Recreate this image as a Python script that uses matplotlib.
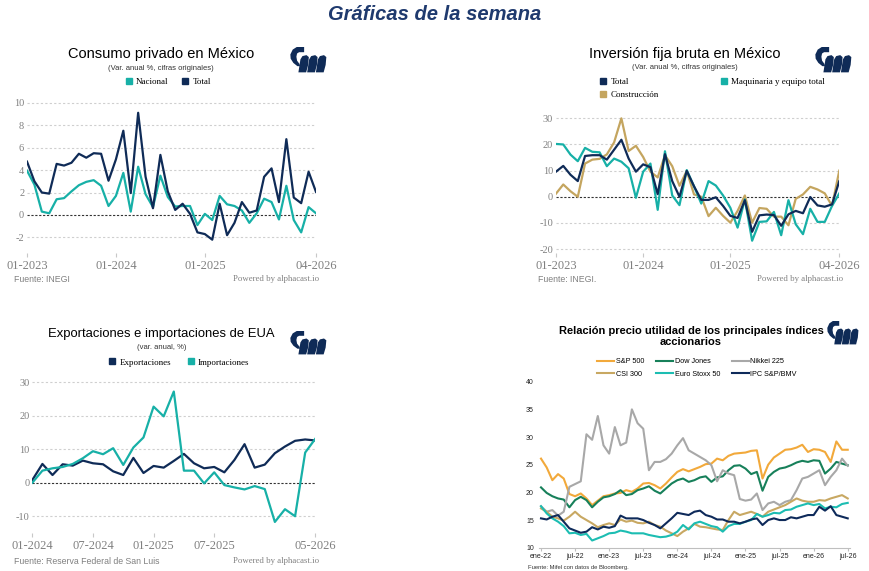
import matplotlib.pyplot as plt
from matplotlib.lines import Line2D
from matplotlib.patches import Polygon

W, H = 870, 571
NAVY = '#0f2b57'
TEAL = '#17b0a7'
GOLD = '#c4a55f'
GRID = '#cfcfcf'
TICK = '#808080'

plt.rcParams['font.family'] = ['Liberation Sans', 'DejaVu Sans']
plt.rcParams['axes.unicode_minus'] = False

# Consumo privado (monthly, 01-2023 .. 04-2026)
consumo_ticks = [0, 12, 24, 39]
consumo_labels = ['01-2023', '01-2024', '01-2025', '04-2026']
consumo_total = [4.75, 3.0, 2.0, 1.9, 4.55, 4.4, 4.65, 5.45, 5.1, 5.5,
                 5.45, 3.05, 4.95, 7.5, 1.95, 9.1, 3.4, 0.6, 5.35, 2.1,
                 0.45, 1.0, 0.1, -1.55, -1.7, -2.2, 1.0, -1.8, -0.7, 1.15,
                 0.2, 0.4, 3.4, 4.15, 1.15, 6.75, 1.55, 1.05, 3.85, 2.05]
consumo_nacional = [3.95, 2.7, 0.3, 0.15, 1.4, 1.5, 2.1, 2.65, 2.95, 3.1,
                    2.6, 0.8, 1.7, 3.75, 0.3, 4.3, 1.85, 0.7, 3.5, 1.6,
                    0.75, 0.8, 0.8, -0.9, 0.1, -0.45, 1.7, 0.95, 0.8, 0.4,
                    -0.7, 0.15, 1.45, 1.15, -0.4, 2.6, -0.45, -1.55, 0.7, 0.15]

# Inversion fija bruta (monthly, 01-2023 .. 04-2026)
inv_total = [9.6, 11.8, 8.4, 6.0, 15.6, 15.9, 15.9, 14.2, 18.0, 21.8,
             14.6, 9.6, 12.4, 11.3, 1.0, 16.3, 6.0, 0.0, 9.9, 4.0,
             -1.2, -1.2, -0.2, -3.5, -7.3, -8.1, -1.3, -13.4, -7.1, -6.8,
             -7.0, -11.1, -6.7, -5.4, -6.3, -0.1, -3.3, -3.8, -2.9, 6.0]
inv_maquinaria = [20.2, 20.0, 16.1, 13.6, 18.7, 17.2, 17.0, 11.7, 14.6, 13.4,
                  10.9, -0.4, 9.6, 12.7, -5.0, 17.4, 0.5, -3.2, 10.2, 4.0,
                  -2.6, 6.0, 4.3, 0.5, -4.2, -11.8, -1.0, -16.8, -9.6, -9.4,
                  -5.8, -14.7, -1.3, -10.5, -14.3, -4.6, -9.6, -9.6, -3.5, 1.3]
inv_construccion = [1.2, 4.7, 2.1, 0.0, 12.7, 14.2, 14.5, 16.2, 20.8, 30.0,
                    17.5, 19.5, 15.2, 9.6, 7.4, 15.9, 11.7, 4.2, 9.9, 0.9,
                    0.0, -7.4, -4.2, -7.3, -9.9, -5.4, 0.5, -9.9, -4.3, -4.6,
                    -7.6, -7.6, -10.9, -0.8, 0.9, 3.8, 2.8, 1.3, -3.5, 10.0]

# Exportaciones / importaciones EUA (monthly, 01-2024 .. 05-2026)
eua_ticks = [0, 6, 12, 18, 28]
eua_labels = ['01-2024', '07-2024', '01-2025', '07-2025', '05-2026']
exportaciones = [0.8, 5.6, 2.3, 5.5, 5.1, 6.6, 5.8, 5.5, 3.4, 2.3,
                 7.4, 2.9, 5.0, 4.5, 6.5, 8.6, 5.8, 4.3, 4.7, 3.1,
                 6.8, 11.5, 4.5, 5.4, 8.8, 10.8, 12.5, 12.9, 12.6]
importaciones = [0.0, 3.6, 4.3, 4.7, 5.6, 7.3, 9.4, 8.5, 10.3, 5.3,
                 10.5, 13.5, 22.7, 19.8, 27.2, 3.6, 3.6, -0.2, 3.1, -0.7,
                 -1.4, -2.0, -1.0, -1.9, -11.7, -7.9, -10.0, 9.0, 13.1]

# P/E indices (monthly, ene-22 .. jul-26)
pe_ticks = list(range(0, 55, 6))
pe_labels = ['ene-22', 'jul-22', 'ene-23', 'jul-23', 'ene-24', 'jul-24',
             'ene-25', 'jul-25', 'ene-26', 'jul-26']
sp500 = [26.1, 24.5, 22.2, 23.3, 22.5, 19.7, 19.3, 19.8, 18.9, 17.7,
         18.5, 19.3, 19.5, 19.8, 19.9, 20.4, 20.1, 20.7, 21.6, 21.7,
         21.3, 20.7, 21.6, 22.7, 23.7, 24.2, 23.8, 24.2, 24.6, 25.1,
         25.2, 26.1, 25.8, 26.6, 27.0, 27.1, 27.2, 27.5, 27.6, 22.5,
         25.0, 26.3, 27.0, 27.7, 27.8, 28.1, 28.6, 27.3, 27.8, 27.7,
         27.3, 25.5, 29.2, 27.7, 27.7]
dow_jones = [20.9, 19.9, 19.3, 18.9, 18.7, 17.3, 18.6, 19.2, 18.6, 17.3,
             18.3, 19.1, 19.3, 19.7, 20.4, 19.5, 19.7, 20.4, 20.7, 21.1,
             20.3, 19.8, 20.7, 21.6, 22.2, 22.5, 21.9, 22.2, 22.7, 22.9,
             21.9, 22.7, 22.9, 24.0, 24.8, 24.9, 24.3, 23.3, 23.7, 20.3,
             22.8, 23.7, 24.3, 24.5, 24.9, 25.4, 25.7, 25.5, 25.8, 25.7,
             23.4, 24.3, 25.5, 25.2, 24.9]
nikkei = [17.5, 16.5, 16.8, 15.8, 16.5, 21.0, 21.5, 22.0, 30.5, 29.5,
          33.8, 28.5, 27.0, 31.8, 28.5, 29.0, 35.0, 32.5, 31.5, 24.0,
          25.5, 25.5, 26.0, 27.0, 28.5, 29.8, 27.6, 27.0, 26.4, 25.8,
          24.9, 22.0, 24.0, 23.4, 23.1, 18.8, 18.5, 18.7, 19.8, 16.8,
          18.0, 18.3, 17.7, 18.3, 18.6, 20.4, 22.5, 22.8, 23.4, 24.0,
          21.3, 22.8, 24.0, 26.1, 24.8]
csi300 = [17.1, 16.5, 15.6, 15.3, 14.9, 15.6, 16.5, 15.6, 15.0, 14.4,
          13.7, 14.1, 14.4, 14.1, 15.1, 14.7, 14.9, 14.5, 14.4, 14.7,
          14.1, 13.8, 13.1, 12.6, 12.1, 12.9, 13.5, 14.3, 13.8, 13.7,
          13.5, 13.3, 13.2, 15.0, 16.5, 15.9, 16.2, 16.5, 16.1, 15.6,
          16.5, 16.9, 17.3, 17.7, 18.3, 18.9, 18.5, 18.3, 18.3, 18.6,
          18.5, 18.9, 19.2, 19.5, 18.9]
euro_stoxx = [17.5, 16.2, 15.3, 14.7, 13.9, 12.6, 12.7, 12.3, 12.5, 11.3,
              11.7, 12.1, 12.6, 12.7, 13.1, 12.9, 12.6, 12.6, 12.6, 12.3,
              12.1, 11.9, 12.0, 12.3, 12.9, 14.1, 13.3, 14.4, 14.7, 14.3,
              13.9, 13.7, 12.9, 13.9, 14.3, 14.3, 14.7, 15.0, 16.1, 15.6,
              15.9, 16.3, 16.2, 16.8, 16.9, 17.4, 17.7, 18.0, 17.7, 17.9,
              17.1, 17.4, 17.3, 17.9, 18.1]
ipc = [15.3, 15.1, 15.6, 15.9, 14.7, 13.5, 13.1, 12.7, 12.9, 13.7,
       13.3, 13.8, 13.6, 13.9, 15.8, 15.3, 15.3, 15.3, 15.0, 14.5,
       14.1, 13.5, 14.4, 15.3, 16.3, 16.1, 15.9, 16.5, 16.7, 15.9,
       15.6, 15.1, 15.1, 14.7, 14.7, 14.4, 14.7, 15.1, 15.3, 14.1,
       15.0, 15.3, 15.0, 15.0, 15.5, 15.3, 15.6, 15.9, 15.9, 17.4,
       16.7, 17.5, 15.9, 15.6, 15.3]


def box(left, top, right, bottom):
    return [left / W, 1 - bottom / H, (right - left) / W, (bottom - top) / H]


def fxy(x, y):
    return x / W, 1 - y / H


def draw_logo(fig, x0, y0, w, h):
    # Mifel-style mark: a "(" plus three slanted bars
    c_shape = [(72, 22), (50, 22), (38, 30), (31, 45), (32, 58), (40, 71), (52, 81),
               (60, 81), (58, 74), (51, 64), (49, 52), (51, 42), (57, 38), (72, 38)]
    bar = [(55, 100), (61, 60), (67, 50), (79, 47), (86, 53), (84, 77), (78, 100)]
    shapes = [c_shape] + [[(px + 26 * k, py) for px, py in bar] for k in range(3)]
    for pts in shapes:
        conv = [fxy(x0 + (px - 30) / 110 * w, y0 + (py - 22) / 80 * h) for px, py in pts]
        fig.patches.append(Polygon(conv, closed=True, color=NAVY, lw=0,
                                   transform=fig.transFigure, figure=fig))


def style_alpha(ax, xticks, xlabels, yticks):
    for s in ax.spines.values():
        s.set_visible(False)
    ax.set_xticks(xticks, xlabels)
    ax.set_yticks(yticks, [str(v) for v in yticks])
    ax.tick_params(axis='x', length=3, color='#c8c8c8', labelsize=9, labelcolor=TICK, pad=2)
    ax.tick_params(axis='y', length=0, labelsize=7.5, labelcolor=TICK, pad=2)
    for lab in ax.get_xticklabels() + ax.get_yticklabels():
        lab.set_fontfamily('Liberation Serif')
    for v in yticks:
        if v != 0:
            ax.axhline(v, color=GRID, lw=0.8, ls=(0, (2, 2)), zorder=0)
    ax.axhline(0, color='#333333', lw=0.8, ls=(0, (2, 1.5)), zorder=1)


def square_legend(ax, labels, colors, cx, cy, ncol, colspacing, labelspacing=0.5):
    handles = [Line2D([], [], ls='none', marker='s', markersize=4.5, color=c) for c in colors]
    ax.legend(handles, labels, loc='center', bbox_to_anchor=fxy(cx, cy),
              bbox_transform=ax.figure.transFigure, ncol=ncol, frameon=False,
              handlelength=0.8, handletextpad=0.4, columnspacing=colspacing,
              labelspacing=labelspacing, borderpad=0, borderaxespad=0,
              prop={'family': 'Liberation Serif', 'size': 6.5})


def footer(fig, left_text, lx, rx, y):
    fig.text(*fxy(lx, y), left_text, fontsize=6.3, color=TICK, va='center', ha='left')
    fig.text(*fxy(rx, y), 'Powered by alphacast.io', fontsize=6.3, color=TICK,
             va='center', ha='right', family='Liberation Serif')


fig = plt.figure(figsize=(8.7, 5.71), dpi=100)
fig.text(*fxy(435, 15), 'Gráficas de la semana', fontsize=14.5, fontweight='bold',
         fontstyle='italic', color='#1f3a6e', ha='center', va='center')

# Panel 1
ax1 = fig.add_axes(box(27, 99.3, 316, 252.6))
x1 = list(range(len(consumo_total)))
ax1.plot(x1, consumo_nacional, color=TEAL, lw=1.6, zorder=3)
ax1.plot(x1, consumo_total, color=NAVY, lw=1.6, zorder=4)
ax1.set_xlim(0, 39)
ax1.set_ylim(-3.35, 10.3)
style_alpha(ax1, consumo_ticks, consumo_labels, [-2, 0, 2, 4, 6, 8, 10])
fig.text(*fxy(161, 54), 'Consumo privado en México', fontsize=10.5, ha='center', va='center')
fig.text(*fxy(161, 68), '(Var. anual %, cifras originales)', fontsize=5.5, ha='center', va='center', color='#333333')
square_legend(ax1, ['Nacional', 'Total'], [TEAL, NAVY], 168, 81.5, 2, 1.5)
footer(fig, 'Fuente: INEGI', 14, 319, 279)
draw_logo(fig, 290, 47, 37, 26)

# Panel 2
ax2 = fig.add_axes(box(556, 115.7, 839.3, 253))
x2 = list(range(len(inv_total)))
ax2.plot(x2, inv_construccion, color=GOLD, lw=1.6, zorder=3)
ax2.plot(x2, inv_maquinaria, color=TEAL, lw=1.6, zorder=4)
ax2.plot(x2, inv_total, color=NAVY, lw=1.6, zorder=5)
ax2.set_xlim(0, 39)
ax2.set_ylim(-21.5, 31)
style_alpha(ax2, consumo_ticks, consumo_labels, [-20, -10, 0, 10, 20, 30])
fig.text(*fxy(685, 54), 'Inversión fija bruta en México', fontsize=10.5, ha='center', va='center')
fig.text(*fxy(685, 67.5), '(Var. anual %, cifras originales)', fontsize=5.5, ha='center', va='center', color='#333333')
square_legend(ax2, ['Total', 'Construcción', 'Maquinaria y equipo total'],
              [NAVY, GOLD, TEAL], 712, 88.5, 2, 6.8, 0.55)
footer(fig, 'Fuente: INEGI.', 538, 843, 279)
draw_logo(fig, 815, 47, 37, 26)

# Panel 3
ax3 = fig.add_axes(box(32.3, 378.8, 315.3, 533))
x3 = list(range(len(exportaciones)))
ax3.plot(x3, exportaciones, color=NAVY, lw=1.6, zorder=3)
ax3.plot(x3, importaciones, color=TEAL, lw=1.6, zorder=4)
ax3.set_xlim(0, 28)
ax3.set_ylim(-15, 31)
style_alpha(ax3, eua_ticks, eua_labels, [-10, 0, 10, 20, 30])
fig.text(*fxy(161.5, 334), 'Exportaciones e importaciones de EUA', fontsize=9.4, ha='center', va='center')
fig.text(*fxy(161.5, 347.5), '(var. anual, %)', fontsize=5.5, ha='center', va='center', color='#333333')
square_legend(ax3, ['Exportaciones', 'Importaciones'], [NAVY, TEAL], 179, 362.5, 2, 1.8)
footer(fig, 'Fuente: Reserva Federal de San Luis', 14, 319, 561)
draw_logo(fig, 290, 331, 37, 24)

# Panel 4
ax4 = fig.add_axes(box(539.3, 381.7, 850, 547.7))
x4 = list(range(len(sp500)))
series4 = [('S&P 500', sp500, '#f2a93b'), ('Dow Jones', dow_jones, '#17805a'),
           ('Nikkei 225', nikkei, '#a8a8a8'), ('CSI 300', csi300, '#c8a862'),
           ('Euro Stoxx 50', euro_stoxx, '#1cbdb2'), ('IPC S&P/BMV', ipc, '#0e2a5a')]
lines = {}
for name, vals, col in series4:
    lines[name] = ax4.plot(x4, vals, color=col, lw=1.5)[0]
ax4.set_xlim(-0.3, 54.4)
ax4.set_ylim(10, 40)
ax4.set_yticks(range(10, 41, 5))
ax4.set_xticks(pe_ticks, pe_labels)
for side in ['top', 'right', 'left']:
    ax4.spines[side].set_visible(False)
ax4.spines['bottom'].set_color('#bfbfbf')
ax4.tick_params(axis='x', length=2, color='#bfbfbf', labelsize=5, labelcolor='#222222', pad=1.5)
ax4.tick_params(axis='y', length=0, labelsize=5, labelcolor='#222222', pad=4)
order = ['S&P 500', 'CSI 300', 'Dow Jones', 'Euro Stoxx 50', 'Nikkei 225', 'IPC S&P/BMV']
ax4.legend([lines[n] for n in order], order, loc='center', bbox_to_anchor=fxy(697, 368),
           bbox_transform=fig.transFigure, ncol=3, frameon=False, fontsize=5.2,
           handlelength=2.4, handletextpad=0.2, columnspacing=1.6, labelspacing=0.75,
           borderpad=0, borderaxespad=0)
fig.text(*fxy(691, 336.5), 'Relación precio utilidad de los principales índices\naccionarios',
         fontsize=8.0, fontweight='bold', ha='center', va='center', linespacing=1.05)
fig.text(*fxy(528, 567), 'Fuente: Mifel con datos de Bloomberg.', fontsize=4.2,
         color='#333333', va='center', ha='left')
draw_logo(fig, 827, 321, 32, 24)

fig.savefig('out.png', dpi=100)
